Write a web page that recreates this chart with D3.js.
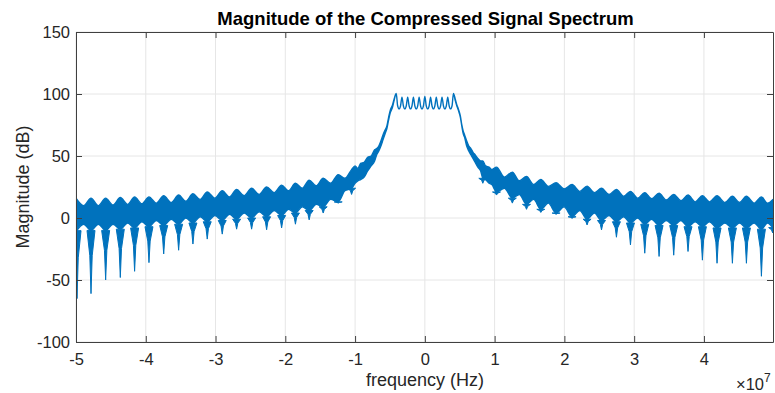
<!DOCTYPE html>
<html>
<head>
<meta charset="utf-8">
<script src="https://cdn.jsdelivr.net/npm/d3@7"></script>
<style>
body { margin: 0; background: #fff; }
text { font-family: "Liberation Sans", Arial, sans-serif; fill: #262626; }
</style>
</head>
<body>
<div id="canvas"></div>
<script>
// Spektrumets band: frekvens (MHz), övre och undre kant (dB)
const bandFreq = [-50.0, -48.9, -47.85, -46.8, -45.75, -44.7, -43.65, -42.6, -41.6, -40.57,
    -39.54, -38.5, -37.43, -36.36, -35.29, -34.27, -33.24, -32.2, -31.19, -30.1,
    -29.04, -28.0, -26.98, -25.9, -24.83, -23.75, -22.68, -21.6, -20.53, -19.54,
    -18.55, -17.56, -16.58, -15.57, -14.57, -13.5, -12.42, -11.46, -10.5, -10.0,
    -9.6, -9.2, -8.7, -8.2, -7.7, -7.2, -6.9, -6.6, -6.3, -6.0,
    -5.7, -5.45, -5.2, -4.95, -4.65, -4.4,
    -4.1, -3.9, -3.69, -3.48, -3.28, -3.08, -2.87, -2.66, -2.46, -2.26,
    -2.05, -1.84, -1.64, -1.44, -1.23, -1.02, -0.82, -0.62, -0.41, -0.2,
    0, 0.2, 0.41, 0.62, 0.82, 1.02, 1.23, 1.44, 1.64, 1.84,
    2.05, 2.26, 2.46, 2.66, 2.87, 3.08, 3.28, 3.48, 3.69, 3.9,
    4.1,
    4.35, 4.6, 4.8, 5.1, 5.3, 5.5, 5.7, 6.0, 6.3, 6.6,
    6.9, 7.2, 7.6, 8.0, 8.31, 8.7, 9.2, 9.6, 10.27, 11.4,
    12.54, 13.55, 14.57, 15.6, 16.62, 17.7, 18.81, 19.95, 21.1, 22.2,
    23.25, 24.3, 25.32, 26.4, 27.46, 28.5, 29.47, 30.5, 31.52, 32.5,
    33.57, 34.6, 35.67, 36.7, 37.72, 38.75, 39.78, 40.8, 41.88, 43.0,
    44.08, 45.1, 46.09, 47.2, 48.24, 49.1, 49.9];
const bandTop = [16, 10, 16, 10, 16, 10.5, 16.5, 11, 17, 11.5,
    17, 12, 18, 12.5, 18.5, 13.5, 19.5, 15, 21, 16,
    22, 17, 23, 18, 24, 19, 25, 20.5, 26.5, 22,
    28, 24, 30.5, 26, 32, 28, 35, 32, 39, 42,
    40, 44, 45, 49, 50, 55, 56, 58, 62, 67,
    71, 74, 81, 87, 91, 96,
    100.5, 90.5, 88, 90.5, 97.5, 90.5, 88, 90.5, 97.5, 90.5,
    88, 90.5, 97.5, 90.5, 88, 90.5, 97.5, 90.5, 88, 90.5,
    98, 90.5, 88, 90.5, 97.5, 90.5, 88, 90.5, 97.5, 90.5,
    88, 90.5, 97.5, 90.5, 88, 90.5, 97.5, 90.5, 88, 90.5,
    100.5,
    96, 91, 88, 82, 75, 70, 67, 62, 58, 56,
    53, 51, 48, 46, 46, 42, 41, 39, 41, 33,
    37, 30, 33.5, 27, 31, 25.5, 28.5, 23.5, 27, 21.5,
    25.7, 20.5, 24, 19, 23, 17.5, 21.5, 16, 20.5, 15.5,
    20, 14.5, 19, 14, 18.5, 13, 18, 13, 18, 12.5,
    17.5, 12.5, 17.5, 12, 17, 12, 15];
const bandBottom = [-11, -5, -10, -5, -10, -5, -9, -4, -8, -3,
    -7, -2, -6, -1, -5, 0, -4, 1, -3, 2,
    -2, 3, -1, 4, 0, 5, 1, 6, 2, 7,
    4, 9, 6, 11, 9, 15, 13, 22, 24, 28,
    30, 31, 33, 38, 42, 46, 51, 54, 58, 63,
    68, 72, 79, 85, 89, 95,
    100.5, 90.5, 88, 90.5, 97.5, 90.5, 88, 90.5, 97.5, 90.5,
    88, 90.5, 97.5, 90.5, 88, 90.5, 97.5, 90.5, 88, 90.5,
    98, 90.5, 88, 90.5, 97.5, 90.5, 88, 90.5, 97.5, 90.5,
    88, 90.5, 97.5, 90.5, 88, 90.5, 97.5, 90.5, 88, 90.5,
    100.5,
    95, 90, 87, 81, 74, 68, 65, 58, 54, 51,
    48, 45, 41, 38, 32, 31, 28, 27, 21, 24,
    16, 19, 11, 15, 7, 12, 4, 9, 1, 6,
    -1, 4, -2, 2, -3, 1, -4, 0, -5, -1,
    -6, -2, -6, -2, -7, -3, -7, -3, -8, -4,
    -8, -4, -8, -4, -9, -4, -8];

// Djupa nollställen (MHz, dB)
const nullFreq = [-49.85, -47.85, -45.75, -43.65, -41.6, -39.54, -37.43, -35.29, -33.24, -31.19,
    -29.04, -26.98, -24.83, -22.68, -20.53, -18.55, -16.58, -14.57, -12.42, -10.5,
    8.31, 10.27, 12.54, 14.57, 16.62, 18.81, 21.1, 23.25, 25.32, 27.46,
    29.47, 31.52, 33.57, 35.67, 37.72, 39.78, 41.88, 44.08, 46.09, 48.24, 49.85];
const nullDepth = [-65, -61, -50, -48, -43, -36, -29, -26, -21, -17,
    -13, -9, -9, -9.5, -8, -5, -1.5, 4, 12, 19,
    28, 18.5, 12, 7, 4.5, 3, -0.3, -5.6, -9.6, -15.5,
    -21.7, -28.4, -31, -30, -27, -34, -36.5, -36.5, -36.5, -47, -12];

const xTicks = [-5, -4, -3, -2, -1, 0, 1, 2, 3, 4]; // x 10^7 Hz
const yTicks = [-100, -50, 0, 50, 100, 150];

const width = 775, height = 393;
const plotLeft = 76, plotRight = 773, plotTop = 32, plotBottom = 342;
const lineColor = "#0072BD";

let x = d3.scaleLinear()
    .domain([-5e7, 4.99e7])
    .range([plotLeft, plotRight]);

let y = d3.scaleLinear()
    .domain([-100, 150])
    .range([plotBottom, plotTop]);

let svg = d3.select('#canvas').append('svg')
    .attr('width', width)
    .attr('height', height)
    .style('background', '#fff');

// rutnät
svg.append('g').selectAll('line').data(xTicks)
    .enter().append('line')
        .attr('x1', d => x(d * 1e7)).attr('x2', d => x(d * 1e7))
        .attr('y1', plotTop).attr('y2', plotBottom)
        .attr('stroke', '#e6e6e6');
svg.append('g').selectAll('line').data(yTicks)
    .enter().append('line')
        .attr('x1', plotLeft).attr('x2', plotRight)
        .attr('y1', d => y(d)).attr('y2', d => y(d))
        .attr('stroke', '#e6e6e6');

svg.append('clipPath').attr('id', 'clip')
    .append('rect')
        .attr('x', plotLeft).attr('y', plotTop)
        .attr('width', plotRight - plotLeft).attr('height', plotBottom - plotTop);

let plot = svg.append('g').attr('clip-path', 'url(#clip)');

let band = bandFreq.map((f, i) => ({f: f, top: bandTop[i], bottom: bandBottom[i]}));

let area = d3.area()
    .x(d => x(d.f * 1e6))
    .y0(d => y(d.bottom))
    .y1(d => y(d.top))
    .curve(d3.curveMonotoneX);

plot.append('path')
    .datum(band)
    .attr('d', area)
    .attr('fill', lineColor)
    .attr('stroke', lineColor)
    .attr('stroke-width', 1.4)
    .attr('stroke-linejoin', 'round');

// undre kanten vid varje nollställe, smal spets nedåt
let bottomAt = d3.scaleLinear().domain(bandFreq).range(bandBottom);

plot.append('g').selectAll('path').data(nullFreq)
    .enter().append('path')
        .attr('d', function(f, i) {
            let cx = x(f * 1e6), base = bottomAt(f);
            let y0 = y(base), y1 = y(base + (nullDepth[i] - base) * 0.4), y2 = y(nullDepth[i]);
            return 'M' + (cx - 4) + ',' + y0 + 'L' + (cx - 1.2) + ',' + y1 + 'L' + cx + ',' + y2
                + 'L' + (cx + 1.2) + ',' + y1 + 'L' + (cx + 4) + ',' + y0 + 'Z';
        })
        .attr('fill', lineColor)
        .attr('stroke', lineColor)
        .attr('stroke-width', 1)
        .attr('stroke-linejoin', 'round');

// axlar med ticks inåt
const axisColor = '#404040';
function styleAxis(g) {
    g.select('.domain').attr('stroke', axisColor);
    g.selectAll('.tick line').attr('stroke', axisColor);
    g.selectAll('text').attr('fill', '#262626').style('font-size', '16.5px')
        .attr('font-family', '"Liberation Sans", Arial, sans-serif');
}

svg.append('g')
    .attr('transform', 'translate(0,' + plotBottom + ')')
    .call(d3.axisBottom(x).tickValues(xTicks.map(d => d * 1e7))
        .tickFormat(d => String(d / 1e7)).tickSizeInner(-6).tickSizeOuter(0).tickPadding(11))
    .call(styleAxis);

svg.append('g')
    .attr('transform', 'translate(0,' + plotTop + ')')
    .call(d3.axisTop(x).tickValues(xTicks.map(d => d * 1e7))
        .tickFormat('').tickSizeInner(-6).tickSizeOuter(0))
    .call(styleAxis);

svg.append('g')
    .attr('transform', 'translate(' + plotLeft + ',0)')
    .call(d3.axisLeft(y).tickValues(yTicks)
        .tickFormat(d => String(d)).tickSizeInner(-6).tickSizeOuter(0).tickPadding(6))
    .call(styleAxis);

svg.append('g')
    .attr('transform', 'translate(' + plotRight + ',0)')
    .call(d3.axisRight(y).tickValues(yTicks)
        .tickFormat('').tickSizeInner(-6).tickSizeOuter(0))
    .call(styleAxis);

// texter
svg.append('text')
    .attr('x', (plotLeft + plotRight) / 2 + 1)
    .attr('y', 25)
    .attr('text-anchor', 'middle')
    .style('font-size', '18.5px')
    .style('font-weight', 'bold')
    .style('fill', '#000')
    .text('Magnitude of the Compressed Signal Spectrum');

svg.append('text')
    .attr('x', 425)
    .attr('y', 386)
    .attr('text-anchor', 'middle')
    .style('font-size', '18px')
    .text('frequency (Hz)');

svg.append('text')
    .attr('transform', 'translate(29,187) rotate(-90)')
    .attr('text-anchor', 'middle')
    .style('font-size', '18px')
    .text('Magnitude (dB)');

let expo = svg.append('text')
    .attr('x', 736)
    .attr('y', 390)
    .style('font-size', '16.5px');
expo.append('tspan').text('\u00d710');
expo.append('tspan').attr('dy', -8).style('font-size', '12px').text('7');
</script>
</body>
</html>
